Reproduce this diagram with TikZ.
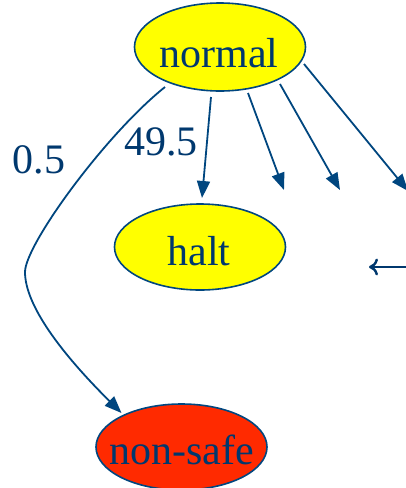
\documentclass[tikz,border=0pt]{standalone}
\usepackage{fontspec}
\setmainfont{Liberation Serif}
\usetikzlibrary{shapes.geometric,arrows.meta,calc}
\definecolor{edgeblue}{RGB}{0,70,127}
\definecolor{textblue}{RGB}{0,56,110}
\definecolor{stateyellow}{RGB}{255,255,0}
\definecolor{statered}{RGB}{255,42,0}
\tikzset{
  statebox/.style={ellipse, draw=edgeblue, line width=1.6pt, minimum width=171pt, minimum height=86pt, inner sep=0pt},
  lbl/.style={text=textblue, font=\fontsize{42}{50}\selectfont, inner sep=0pt},
  arr/.style={draw=edgeblue, line width=1.8pt, -{Triangle[length=17pt,width=13pt]}},
  glypharr/.style={draw=textblue, line width=2.4pt, -{Computer Modern Rightarrow[length=9pt,width=17pt]}},
}
\begin{document}
\begin{tikzpicture}[x=1pt,y=-1pt]
\useasboundingbox (0,0) rectangle (405,488);
% states
\node[statebox, fill=stateyellow, minimum height=88pt] (normal) at (220,47) {};
\node[statebox, fill=stateyellow] (halt) at (200,247) {};
\node[statebox, fill=statered] (nonsafe) at (181.5,447) {};
\node[lbl, anchor=base] (normaltxt) at (219,67) {normal};
\node[lbl, anchor=base] (halttxt) at (199,265) {halt};
\node[lbl, anchor=base] (nonsafetxt) at (181.5,464) {non-safe};
% labels
\node[lbl] (p05) at (39,160) {0.5};
\node[lbl] (p495) at (161,142) {49.5};
% free ends
\coordinate (e2) at (284,190);
\coordinate (e3) at (340,190);
\coordinate (e4) at (408,191);
\coordinate (bend) at (25,272);
\coordinate (la) at (410,267);
\coordinate (lb) at (369,267);
% edges
\draw[arr] ($(normal)+(-9,50)$) -- ($(halt)+(2,-49)$);
\draw[arr] ($(normal)+(28,46)$) -- (e2);
\draw[arr] ($(normal)+(60,37)$) -- (e3);
\draw[arr] ($(normal)+(84,17)$) -- (e4);
\draw[arr] ($(normal)+(-55,40)$) .. controls (105,135) and (25,245) .. (bend)
  .. controls (25,305) and (61,353) .. ($(nonsafe)+(-60,-34)$);
% cut-off arrow at the right edge
\draw[glypharr] (la) -- (lb);
\end{tikzpicture}
\end{document}
